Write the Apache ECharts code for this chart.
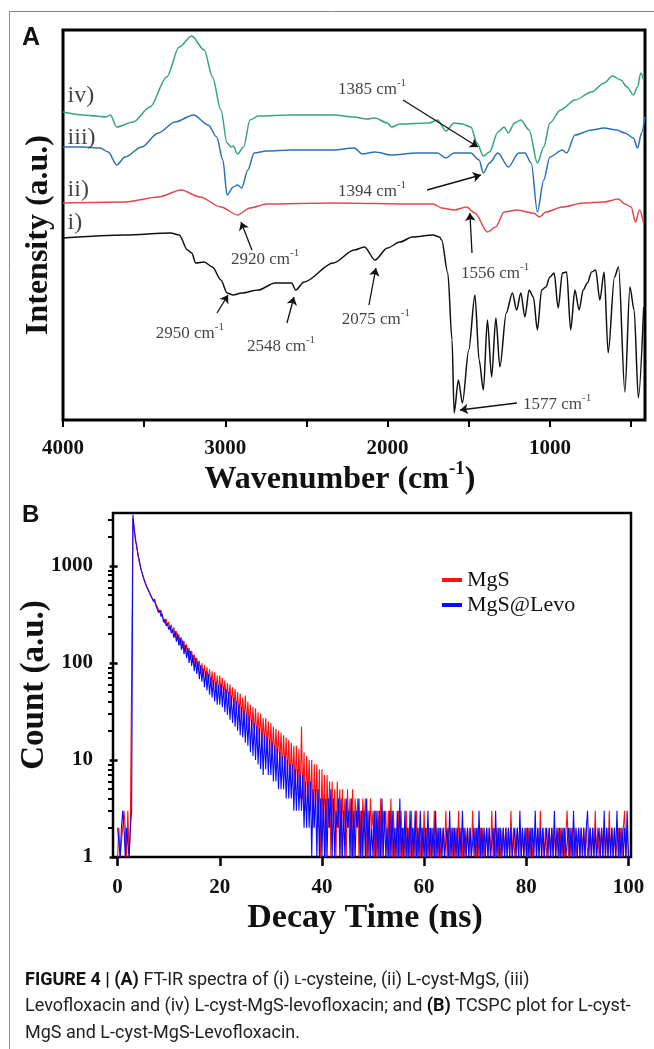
<!DOCTYPE html>
<html><head><meta charset="utf-8">
<script src="https://cdn.jsdelivr.net/npm/echarts@6/dist/echarts.min.js"></script>
<style>html,body{margin:0;padding:0;background:#fff}#c{width:654px;height:1049px}</style>
</head><body><div id="c"></div>
<script>
// ---------------- Panel A : FT-IR ----------------
const irXTickLabels = [4000, 3000, 2000, 1000];
const irXTicks = [4000, 3500, 3000, 2500, 2000, 1500, 1000, 500];
// [wavenumber, intensity (a.u., offset for stacking)]
const curveI = [[4000,182],[3618,185],[3336,187],[3284,185],[3233,170],[3207,167],[3182,157],[3130,158],[3079,153],[3027,140],[2989,127],[2951,125],[2899,127],[2797,130],[2694,137],[2592,137],[2566,130],[2515,138],[2335,157],[2206,170],[2142,173],[2078,160],[2001,172],[1924,178],[1847,183],[1719,185],[1680,183],[1667,180],[1629,147],[1603,80],[1590,7],[1564,40],[1539,17],[1500,70],[1462,125],[1436,60],[1410,30],[1385,100],[1359,43],[1333,102],[1308,53],[1269,107],[1231,127],[1205,110],[1179,127],[1154,103],[1128,130],[1102,123],[1077,90],[1051,130],[1025,133],[1000,143],[974,147],[949,112],[923,147],[897,148],[872,90],[846,130],[820,110],[795,130],[769,137],[743,148],[718,150],[692,120],[666,148],[641,67],[602,143],[577,153],[538,28],[507,133],[481,110],[455,22],[422,113]];
const curveII = [[4000,217],[3618,218],[3413,223],[3272,230],[3156,223],[3027,213],[2925,205],[2848,212],[2746,216],[2335,217],[1821,216],[1719,216],[1667,212],[1590,210],[1513,213],[1462,207],[1385,188],[1334,193],[1282,208],[1205,210],[1102,207],[1064,203],[1025,208],[923,213],[794,217],[666,218],[577,221],[538,216],[499,213],[473,198],[448,210],[422,197]];
const curveIII = [[4000,273],[3875,273],[3772,272],[3721,268],[3669,255],[3618,263],[3515,273],[3413,287],[3310,298],[3195,305],[3105,295],[3053,283],[3015,260],[2989,225],[2951,233],[2925,235],[2899,232],[2861,250],[2822,267],[2746,269],[2592,270],[2335,270],[2206,272],[2155,266],[2078,268],[1975,265],[1821,267],[1693,267],[1641,262],[1590,267],[1487,267],[1436,260],[1410,247],[1372,257],[1320,267],[1256,253],[1192,267],[1154,267],[1115,257],[1077,208],[1038,240],[1000,263],[923,270],[897,267],[845,285],[743,290],[666,292],[589,290],[537,287],[486,282],[460,272],[435,287],[415,303]];
const curveIV = [[4000,308],[3875,305],[3798,304],[3734,303],[3708,305],[3669,293],[3567,298],[3464,313],[3361,343],[3284,373],[3207,384],[3130,370],[3079,343],[3027,310],[2989,277],[2963,273],[2951,274],[2925,266],[2887,273],[2848,300],[2797,304],[2592,305],[2335,305],[2206,303],[2129,301],[2078,302],[2001,297],[1975,293],[1924,296],[1744,297],[1693,300],[1641,289],[1590,297],[1539,296],[1487,293],[1449,277],[1410,264],[1372,268],[1320,288],[1282,293],[1256,287],[1218,297],[1179,300],[1128,290],[1077,257],[1038,273],[1000,297],[935,310],[845,320],[743,328],[666,337],[615,344],[563,340],[525,333],[486,325],[460,333],[440,347],[422,340]];
const curveNames = ['i)', 'ii)', 'iii)', 'iv)'];
const curveLabelPos = [[3975,197],[3975,230],[3975,282],[3975,324]];
const peakLabels = ['1385', '1394', '2920', '1556', '2950', '2548', '2075', '1577'];
const peakTextPos = [[2096,332],[2096,230],[2755,162],[1338,148],[3218,88],[2657,75],[2072,102],[956,17]];
const peakArrowFrom = [[1905,320],[1757,230],[2836,170],[1480,167],[3051,107],[2620,97],[2115,115],[1203,17]];
const peakArrowTo = [[1443,273],[1425,245],[2903,198],[1493,207],[2983,125],[2577,123],[2072,152],[1554,10]];

// ---------------- Panel B : TCSPC ----------------
const decayStep = 0.25; // ns per channel
const decayXTicks = [0, 20, 40, 60, 80, 100];
const countTicks = [1, 10, 100, 1000];
const countMinorTicks = [2,3,4,5,6,7,8,9,20,30,40,50,60,70,80,90,200,300,400,500,600,700,800,900,2000,3000];
const countMgS = [1,2,1,1,2,3,2,1,3,1,2,2,
3100,2300,1950,1500,
1350,1080,1040,860, 860,710,720,610, 630,530,545,470, 490,420,440,380,
380,330,350,300, 305,255,285,240, 265,220,248,205,
232,182,212,170, 196,153,182,142, 168,128,155,120, 142,108,133,100, 122,91,113,85, 105,77,99,73,
95,66,90,62, 86,58,82,54, 80,51,74,48, 74,48,70,45, 66,42,62,40, 60,37,56,34,
54,31,50,29, 48,27,44,25, 46,23,40,22, 37,20,35,18, 34,17,31,16, 30,15,27,14,
27,13,25,12, 24,11,22,10, 21,10,20,9, 19,8,18,8, 17,7,16,6, 15,6,14,5,
14,5,13,4, 22,4,12,3, 11,4,10,3, 10,2,9,3, 9,2,8,1, 8,2,7,1,
7,2,6,1,6,2,5,1,6,2, 5,1,5,2,4,1,5,2,4,1, 5,1,4,2,4,1,3,1,4,2, 4,1,3,1,4,2,3,1,3,1,
3,1,4,1,3,2,3,1,3,1, 4,1,3,1,2,1,3,1,3,1, 2,1,3,1,2,1,3,1,2,1, 3,1,2,1,2,1,3,1,2,1,
2,1,2,1,3,1,2,1,2,1,1,2,1,3,1,2,1,2,1,2,
1,2,1,3,1,2,1,2,1,1,2,1,2,1,3,1,2,1,2,1,
2,1,2,1,1,2,1,2,1,3,1,2,1,2,1,2,1,1,2,1,
2,1,2,1,3,1,2,1,1,2,1,2,1,2,1,1,2,1,2,1,
2,1,1,2,1,2,1,3,1,2,1,2,1,1,2,1,2,1,2,1,
1,2,1,2,1,2,1,1,3,1,2,1,2,1,2,1,1,2,1,2,
1,2,1,2,1,1,2,1,2,1,3,1,2,1,1,2,1,2,1,2,
1,3,1,2,1,2,1,1,2,1,2,1,2,3,1,2,1];
const countMgSLevo = [2,2,1,2,3,2,1,2,2,1,2,3,
3350,2450,1800,1620,
1260,1150,960,920, 770,760,640,650, 560,575,490,500, 430,455,390,405,
330,350,300,318, 262,282,240,258, 220,240,202,222,
182,214,165,200, 150,182,136,170, 123,153,112,142, 100,132,93,121, 82,112,77,103, 68,94,64,87,
56,82,52,77, 47,71,44,67, 40,63,37,59, 37,61,35,57, 31,53,29,50, 26,46,24,43,
22,40,20,37, 18,35,17,32, 15,30,14,28, 12,26,11,24, 10,22,9,21, 8,19,7,18,
8,17,7,16, 7,15,6,14, 6,13,5,12, 5,11,5,11, 4,10,4,9, 4,9,3,8,
3,8,3,7, 3,7,2,6, 2,6,2,6, 1,5,2,5, 1,5,1,4, 1,4,1,4,
1,4,2,5,1,4,1,3,2,4, 1,4,1,3,1,4,2,3,1,4, 1,3,1,3,2,4,1,3,1,3, 1,4,1,3,1,2,1,3,1,3,
1,3,1,4,1,3,1,2,1,3, 1,3,1,2,1,3,1,4,1,2, 1,3,1,2,1,3,1,2,1,3, 1,2,1,3,1,2,1,2,1,3,
1,2,1,2,1,3,1,2,1,2,1,2,1,1,2,1,3,1,2,1,
2,1,2,1,2,1,3,1,2,1,2,1,2,1,1,2,1,2,1,3,
1,2,1,2,1,2,1,2,1,1,2,1,3,1,2,1,2,1,2,1,
2,1,2,1,2,1,1,2,1,2,1,3,1,2,1,2,1,2,1,2,
1,2,1,3,1,2,1,2,1,2,1,1,2,1,2,1,2,1,3,1,
2,1,2,1,2,1,2,1,1,2,1,2,1,3,1,2,1,2,1,2,
1,2,1,2,3,1,2,1,2,1,2,1,1,2,1,2,1,3,1,2,
1,2,1,2,1,2,1,3,1,2,1,2,1,2,1,3,1];

const SERIF = 'Liberation Serif';
const chart = echarts.init(document.getElementById('c'), null, {renderer: 'canvas'});

const irColors = ['#111111', '#e0484e', '#2a72b6', '#35a57a'];
const irCurves = [curveI, curveII, curveIII, curveIV];

const seriesA = irCurves.map((d, k) => ({
  type: 'line', xAxisIndex: 0, yAxisIndex: 0, data: d, showSymbol: false,
  smooth: 0.3, smoothMonotone: 'x',
  lineStyle: {color: irColors[k], width: 1.5}, itemStyle: {color: irColors[k]},
  silent: true, z: 3
}));

const supRich = {
  n: {fontFamily: SERIF, fontSize: 17, lineHeight: 20, verticalAlign: 'bottom', color: '#111'},
  s: {fontFamily: SERIF, fontSize: 11, lineHeight: 11, verticalAlign: 'top', color: '#111'}
};

const annoLabels = {
  type: 'scatter', xAxisIndex: 0, yAxisIndex: 0, symbolSize: 1,
  itemStyle: {color: 'rgba(0,0,0,0)'}, silent: true, z: 5,
  data: peakTextPos.map((p, k) => ({value: p, name: peakLabels[k]})),
  label: {show: true, position: 'inside', formatter: p => '{n|' + p.name + ' cm}{s|-1}', rich: supRich}
};
const curveLabelSeries = {
  type: 'scatter', xAxisIndex: 0, yAxisIndex: 0, symbolSize: 1,
  itemStyle: {color: 'rgba(0,0,0,0)'}, silent: true, z: 5,
  data: curveLabelPos.map((p, k) => ({value: p, name: curveNames[k]})),
  label: {show: true, position: 'right', distance: 0, formatter: p => p.name,
    fontFamily: SERIF, fontSize: 24, color: '#111'}
};
const arrows = {
  type: 'lines', coordinateSystem: 'cartesian2d', xAxisIndex: 0, yAxisIndex: 0,
  symbol: ['none', 'arrow'], symbolSize: 8, silent: true, z: 6,
  lineStyle: {color: '#111', width: 1.3, opacity: 1},
  data: peakArrowFrom.map((f, k) => ({coords: [f, peakArrowTo[k]]}))
};

const seriesB = [
  {name: 'MgS', data: countMgS, color: '#ff1010'},
  {name: 'MgS@Levo', data: countMgSLevo, color: '#0a0aff'}
].map((s, k) => ({
  type: 'line', name: s.name, xAxisIndex: 1, yAxisIndex: 1,
  data: s.data.map((v, i) => [i * decayStep, v]),
  showSymbol: false, lineStyle: {color: s.color, width: 1.1}, itemStyle: {color: s.color},
  silent: true, z: 3 + k, animation: false
}));

const plain = v => String(v);
const tickFont = {fontFamily: SERIF, fontWeight: 'bold', fontSize: 21, color: '#111', formatter: plain};

chart.setOption({
  animation: false,
  backgroundColor: '#fff',
  grid: [
    {left: 63, right: 9, top: 30, bottom: 629, show: true, borderColor: '#000', borderWidth: 3, backgroundColor: 'transparent'},
    {left: 113, right: 23, top: 513, bottom: 192, show: true, borderColor: '#000', borderWidth: 2.5, backgroundColor: 'transparent'}
  ],
  xAxis: [
    {type: 'value', gridIndex: 0, inverse: true, min: 414, max: 4000,
     axisLine: {show: false}, splitLine: {show: false},
     axisTick: {show: true, inside: false, length: 7, customValues: irXTicks, lineStyle: {color: '#000', width: 2}},
     axisLabel: Object.assign({customValues: irXTickLabels, margin: 18}, tickFont),
     name: '{t|Wavenumber (cm}{s|-1}{t|)}', nameLocation: 'middle', nameGap: 24,
     nameTextStyle: {padding: [0, 28, 0, 0], rich: {
       t: {fontFamily: SERIF, fontWeight: 'bold', fontSize: 32, lineHeight: 36, verticalAlign: 'bottom', color: '#111'},
       s: {fontFamily: SERIF, fontWeight: 'bold', fontSize: 19, lineHeight: 19, verticalAlign: 'top', color: '#111'}}}
    },
    {type: 'value', gridIndex: 1, min: -0.9, max: 100.5,
     axisLine: {show: false}, splitLine: {show: false},
     axisTick: {show: true, inside: false, length: 9, customValues: decayXTicks, lineStyle: {color: '#000', width: 2.5}},
     axisLabel: Object.assign({customValues: decayXTicks, margin: 20}, tickFont),
     name: 'Decay Time (ns)', nameLocation: 'middle', nameGap: 42,
     nameTextStyle: {fontFamily: SERIF, fontWeight: 'bold', fontSize: 34, lineHeight: 38, color: '#111', padding: [0, 14, 0, 0]}
    }
  ],
  yAxis: [
    {type: 'value', gridIndex: 0, min: 0, max: 390,
     axisLine: {show: false}, axisTick: {show: false}, axisLabel: {show: false}, splitLine: {show: false},
     name: 'Intensity (a.u.)', nameLocation: 'middle', nameGap: 8, nameRotate: 90,
     nameTextStyle: {fontFamily: SERIF, fontWeight: 'bold', fontSize: 32, color: '#111', padding: [0, 20, 0, 0]}
    },
    {type: 'log', gridIndex: 1, min: 1, max: 3500, logBase: 10, position: 'left',
     axisLine: {show: false}, splitLine: {show: false},
     axisTick: {show: true, inside: false, length: 8, customValues: countTicks, lineStyle: {color: '#000', width: 2.5}},
     axisLabel: Object.assign({customValues: countTicks, margin: 20}, tickFont),
     name: 'Count (a.u.)', nameLocation: 'middle', nameGap: 62, nameRotate: 90, nameMoveOverlap: false,
     nameTextStyle: {fontFamily: SERIF, fontWeight: 'bold', fontSize: 33, color: '#111'}
    },
    {type: 'log', gridIndex: 1, min: 1, max: 3500, logBase: 10, position: 'left', offset: 0,
     axisLine: {show: false}, splitLine: {show: false}, axisLabel: {show: false},
     axisTick: {show: true, inside: false, length: 5, customValues: countMinorTicks, lineStyle: {color: '#000', width: 2}}
    }
  ],
  legend: {
    data: ['MgS', 'MgS@Levo'], orient: 'vertical', left: 437, top: 564, itemGap: 3,
    icon: 'rect', itemWidth: 20, itemHeight: 4, selectedMode: false,
    textStyle: {fontFamily: SERIF, fontSize: 22, color: '#111', padding: [0, 0, 0, 0]}
  },
  graphic: [
    {type: 'line', shape: {x1: 9, y1: 11.5, x2: 654, y2: 11.5}, style: {stroke: '#8a8a8a', lineWidth: 1}, silent: true},
    {type: 'line', shape: {x1: 9.5, y1: 11, x2: 9.5, y2: 1049}, style: {stroke: '#8a8a8a', lineWidth: 1}, silent: true},
    {type: 'text', x: 22, y: 38, style: {text: 'A', font: 'bold 25px "Liberation Sans"', fill: '#111', verticalAlign: 'middle'}, silent: true},
    {type: 'text', x: 22, y: 515, style: {text: 'B', font: 'bold 24px "Liberation Sans"', fill: '#111', verticalAlign: 'middle'}, silent: true},
    {type: 'text', x: 25, y: 967, silent: true, style: {
      text: '{b|FIGURE 4 | (A)} FT-IR spectra of (i) {sc|L}-cysteine, (ii) L-cyst-MgS, (iii)\nLevofloxacin and (iv) L-cyst-MgS-levofloxacin; and {b|(B)} TCSPC plot for L-cyst-\nMgS and L-cyst-MgS-Levofloxacin.',
      fontFamily: 'Roboto', fontSize: 18, lineHeight: 26.5, fill: '#222',
      rich: {
        b: {fontFamily: 'Roboto', fontWeight: 'bold', fontSize: 18, lineHeight: 26.5, fill: '#111'},
        sc: {fontFamily: 'Roboto', fontSize: 13.5, lineHeight: 26.5, fill: '#222'}
      }}}
  ],
  series: seriesA.concat([arrows, annoLabels, curveLabelSeries], seriesB)
});
</script></body></html>
